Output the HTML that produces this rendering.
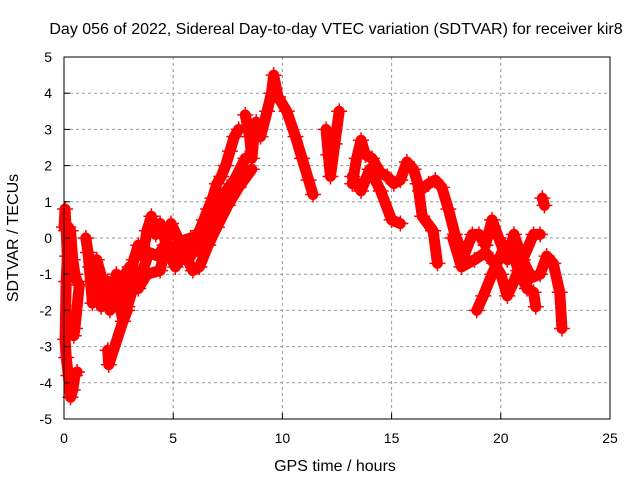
<!DOCTYPE html>
<html><head><meta charset="utf-8"><style>
body{margin:0;background:#fff}
svg{display:block;font-family:"Liberation Sans",sans-serif}
</style></head><body>
<svg id="chart" width="640" height="480">
<rect width="640" height="480" fill="#fff"/>
<text x="336" y="34" font-size="16" text-anchor="middle">Day 056 of 2022, Sidereal Day-to-day VTEC variation (SDTVAR) for receiver kir8</text>
<g id="grid"></g>
<g id="marks"></g>
<rect x="64" y="57" width="546" height="362" fill="none" stroke="#000" stroke-width="1"/>
<g id="ticks" font-size="14"></g>
<text x="335" y="471" font-size="16" text-anchor="middle">GPS time / hours</text>
<text x="18" y="238" font-size="16" text-anchor="middle" transform="rotate(-90 18 238)">SDTVAR / TECUs</text>
</svg>
<script>
const xTicks=[0,5,10,15,20,25];
const yTicks=[-5,-4,-3,-2,-1,0,1,2,3,4,5];
const trackA=[[0,0.3],[0.05,0.8],[0.1,0.2],[0.15,-0.5],[0.1,-1.2],[0.05,-2.8],[0.1,-3.3],[0.2,-3.8],[0.3,-4.4],[0.4,-4.2],[0.5,-3.8],[0.6,-3.7]];
const trackA2=[[0.2,0.3],[0.3,0.2],[0.4,-0.6],[0.5,-1.0],[0.6,-1.2],[0.7,-1.3],[0.5,-2.5],[0.45,-2.7]];
const trackB=[[1.0,0],[1.2,-0.8],[1.4,-1.5],[1.6,-1.3],[1.8,-1.6],[2.0,-1.2],[2.2,-1.5],[2.4,-1.0],[2.6,-1.3],[2.8,-1.6],[3.0,-1.2],[3.2,-0.6],[3.4,-0.2],[3.6,-0.5],[3.8,0.2],[4.0,0.6],[4.2,0.1],[4.4,0.4],[4.6,0],[4.8,-0.5],[5.0,-0.3],[5.2,-0.2],[5.4,-0.6],[5.6,-0.3],[5.8,-0.5],[6.0,0.0],[6.2,0.2],[6.4,0.5],[6.6,0.8],[6.8,1.1],[7.0,1.5],[7.2,1.7],[7.4,2.0],[7.6,2.4],[7.8,2.8],[8.0,3.0]];
const trackB2=[[1.1,-0.4],[1.3,-1.8],[1.5,-1.0],[1.7,-1.9],[1.9,-1.4],[2.1,-2.0],[2.5,-1.7],[2.7,-2.3],[2.9,-1.9],[3.1,-1.5],[3.3,-1.0],[3.6,-0.9],[3.9,-0.4],[4.3,-0.5],[4.6,-0.2],[5.1,-0.8],[5.5,-0.4],[5.9,-0.9],[6.2,-0.8],[6.6,-0.2],[7.0,0.3],[7.5,0.9],[8.0,1.4],[8.6,1.9]];
const trackB4=[[1.5,-0.6],[2.0,-1.7],[2.4,-1.4],[3.0,-0.8],[3.4,-1.4],[3.8,-1.0],[4.4,-0.9],[4.9,0.4],[5.3,-0.1],[5.8,0.0],[6.3,-0.4],[6.8,0.5],[7.3,1.2],[7.8,1.6],[8.3,2.2]];
const trackB3=[[2.0,-3.1],[2.05,-3.5],[2.7,-2.3],[2.9,-2.0]];
const trackC=[[8.3,3.4],[8.5,2.8],[8.6,2.2],[8.7,2.8],[8.8,3.2]];
const trackD=[[9.0,2.8],[9.3,3.5],[9.5,4.0],[9.6,4.5],[9.8,3.9],[10.2,3.5],[10.6,2.8],[10.9,2.2],[11.2,1.6],[11.4,1.2]];
const trackE=[[12.0,3.0],[12.1,2.3],[12.2,1.7],[12.4,2.6],[12.6,3.5]];
const trackF1=[[13.2,1.5],[13.4,2.2],[13.6,2.7],[13.8,2.3],[14.1,2.2],[14.5,1.8],[14.8,1.7],[15.1,1.5],[15.4,1.6],[15.7,2.1],[16.0,1.9],[16.3,1.3],[16.7,1.5],[17.0,1.6],[17.3,1.4],[17.6,0.8],[17.9,0.1],[18.3,-0.5],[18.7,0.1],[19.0,0.1],[19.3,-0.2],[19.6,0.5],[19.9,0.0],[20.3,-0.6],[20.6,0.1],[21.0,-0.6],[21.5,0.1],[21.8,0.1]];
const trackF2=[[13.2,1.7],[13.6,1.3],[14.0,1.9],[14.5,1.3],[15.0,0.5],[15.4,0.4]];
const trackF3=[[16.2,1.5],[16.4,0.6],[16.9,0.2],[17.1,-0.7]];
const trackF4=[[17.8,0.0],[18.2,-0.8],[18.8,-0.6],[19.3,-0.4],[19.7,-0.7],[20.0,-1.0],[20.3,-1.6],[20.6,-1.2],[21.0,-0.6],[21.4,-1.1],[21.8,-1.0],[22.1,-0.5],[22.4,-0.7],[22.7,-1.5],[22.8,-2.5]];
const trackF5=[[18.9,-2.0],[19.2,-1.6],[19.6,-1.0],[19.9,-0.6],[20.2,-0.2],[20.5,-0.3],[20.8,-0.9],[21.2,-1.4],[21.5,-1.5],[21.6,-1.9]];
const trackG=[[21.9,1.1],[22.0,0.9]];
const tracks=[trackA,trackA2,trackB,trackB2,trackB4,trackB3,trackC,trackD,trackE,trackF1,trackF2,trackF3,trackF4,trackF5,trackG];

const NS='http://www.w3.org/2000/svg';
function X(h){return 64+h*546/25;}
function Y(v){return 238-v*36.2;}
const grid=document.getElementById('grid'),ticks=document.getElementById('ticks'),marks=document.getElementById('marks');
function mk(tag,attrs,parent){const e=document.createElementNS(NS,tag);for(const k in attrs)e.setAttribute(k,attrs[k]);parent.appendChild(e);return e;}
xTicks.forEach(t=>{
  if(t>0&&t<25){const g=mk('line',{x1:X(t),x2:X(t),y1:57,y2:419,stroke:'#999','stroke-dasharray':'3,3'},grid);
  
  }
  const l=mk('text',{x:X(t),y:443,'text-anchor':'middle'},ticks);l.textContent=t;
  
  
  mk('line',{x1:X(t),x2:X(t),y1:419,y2:413,stroke:'#000'},ticks);
});
yTicks.forEach(t=>{
  if(t>-5&&t<5){const g=mk('line',{x1:64,x2:610,y1:Y(t),y2:Y(t),stroke:'#999','stroke-dasharray':'3,3'},grid);
  
  }
  const l=mk('text',{x:52,y:Y(t)+5,'text-anchor':'end'},ticks);l.textContent=t;
  
  
  mk('line',{x1:64,x2:70,y1:Y(t),y2:Y(t),stroke:'#000'},ticks);
});
tracks.forEach(tr=>{
  const pl=mk('polyline',{points:tr.map(p=>X(p[0])+','+Y(p[1])).join(' '),fill:'none',stroke:'#f00','stroke-width':11,'stroke-linejoin':'round','stroke-linecap':'round'},marks);
  
  
  tr.forEach(p=>{
    const x=X(p[0]),y=Y(p[1]);
    const m=mk('path',{d:`M${x-8},${y}H${x+8}M${x},${y-8}V${y+8}`,stroke:'#f00','stroke-width':1.5},marks);
    
    
  });
});
</script>
</body></html>
